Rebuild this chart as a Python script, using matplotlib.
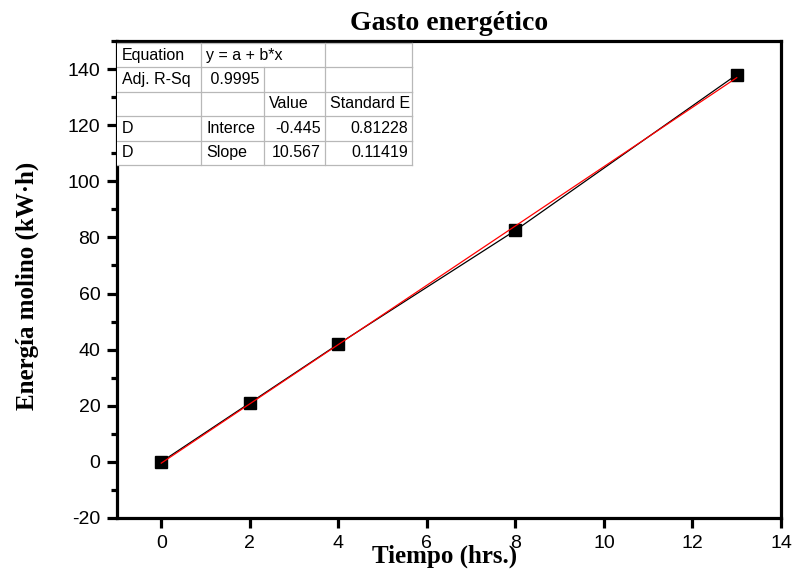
import numpy as np
import matplotlib
matplotlib.use("Agg")
import matplotlib.pyplot as plt
from matplotlib.ticker import MultipleLocator

plt.rcParams["axes.unicode_minus"] = False

# data
tiempo = [0, 2, 4, 8, 13]
energia = [0, 21, 42, 82.5, 138]

# linear fit reported in the table
intercept = -0.445
slope = 10.567

table_rows = [
    ["Equation", "y = a + b*x", "", ""],
    ["Adj. R-Sq", " 0.9995", "", ""],
    ["", "", "Value", "Standard E"],
    ["D", "Interce", "-0.445", "0.81228"],
    ["D", "Slope", "10.567", "0.11419"],
]
col_widths = [84, 63, 61, 87]

fig = plt.figure(figsize=(7.93, 5.73), dpi=100)
ax = fig.add_axes([117 / 793, 1 - 518 / 573, 664 / 793, 477 / 573])

x_fit = np.array([min(tiempo), max(tiempo)])
ax.plot(tiempo, energia, color="black", lw=0.9, marker="s", ms=8,
        mfc="black", mec="black", zorder=3)
ax.plot(x_fit, intercept + slope * x_fit, color="red", lw=0.9, zorder=4)

ax.set_xlim(-1, 14)
ax.set_ylim(-20, 150)
ax.set_xticks(range(0, 15, 2))
ax.set_yticks(range(-20, 141, 20))
ax.yaxis.set_minor_locator(MultipleLocator(10))

for s in ax.spines.values():
    s.set_linewidth(2.3)
ax.tick_params(which="major", direction="out", length=7, width=2.3,
               labelsize=14, pad=5)
ax.tick_params(which="minor", direction="out", length=4, width=2.3)
for lab in ax.get_xticklabels() + ax.get_yticklabels():
    lab.set_fontfamily("Liberation Sans")

ax.set_title("Gasto energético", fontsize=20, fontweight="bold",
             fontfamily="Liberation Serif", pad=8)
ax.set_xlabel("Tiempo (hrs.)", fontsize=18, fontweight="bold",
              fontfamily="Liberation Serif")
ax.set_ylabel("Energía molino (kW·h)", fontsize=18, fontweight="bold",
              fontfamily="Liberation Serif")
ax.xaxis.set_label_coords((445 - 117) / 664, (518 - 545) / 477)
ax.yaxis.set_label_coords((39 - 117) / 664, (518 - 286) / 477)

# fit results table in upper left corner (axes fraction coords)
W, H = 664, 477
tot = sum(col_widths)
top = 1 - 2 / H
row_h = 24.4 / H
n_rows = len(table_rows)
bottom = top - n_rows * row_h
xs = np.concatenate([[0], np.cumsum(col_widths)]) / W
ax.add_patch(plt.Rectangle((0, bottom), tot / W, top - bottom,
                           transform=ax.transAxes, facecolor="white",
                           edgecolor="none", zorder=5))
grid_kw = dict(color="#b8b8b8", lw=0.9, transform=ax.transAxes, zorder=6)
for i in range(n_rows + 1):
    yy = top - i * row_h
    ax.plot([0, tot / W], [yy, yy], **grid_kw)
for j in range(1, len(col_widths) + 1):
    for i in range(n_rows):
        if i == 0 and j == 2:
            continue  # equation text spans two cells
        y0 = top - (i + 1) * row_h
        ax.plot([xs[j], xs[j]], [y0, y0 + row_h], **grid_kw)
for i, row in enumerate(table_rows):
    yc = top - (i + 0.5) * row_h
    for j, txt in enumerate(row):
        if not txt:
            continue
        if i >= 3 and j >= 2:
            ax.text(xs[j + 1] - 4 / W, yc, txt, ha="right", va="center",
                    fontsize=11.5, fontfamily="Liberation Sans",
                    transform=ax.transAxes, zorder=7)
        else:
            ax.text(xs[j] + 5 / W, yc, txt, ha="left", va="center",
                    fontsize=11.5, fontfamily="Liberation Sans",
                    transform=ax.transAxes, zorder=7)

fig.savefig("out.png", dpi=100)
